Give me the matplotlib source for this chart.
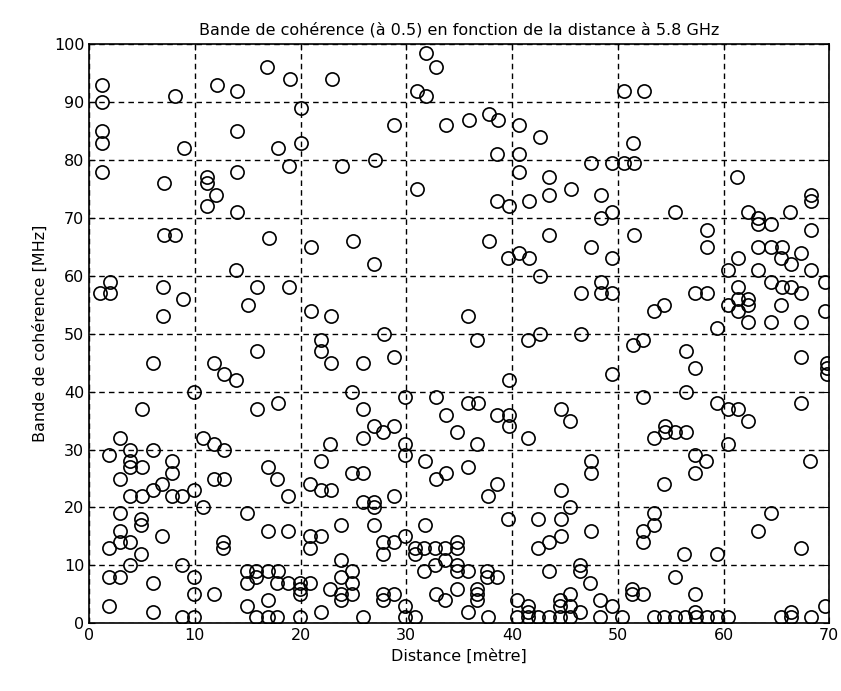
import matplotlib
matplotlib.use("Agg")
import matplotlib.pyplot as plt

# Measured coherence bandwidth (at 0.5 correlation) versus Tx-Rx distance, 5.8 GHz
distance_m = [
    1.2, 1.2, 1.2, 1.2, 1.2, 8.1, 9.0, 7.1, 12.1, 14.0, 16.8, 14.0, 11.1, 11.1, 12.0, 11.1, 14.0, 14.0,
    7.1, 8.1,
    19.0, 23.0, 20.0, 17.9, 20.0, 18.9, 23.9, 27.0, 28.8, 33.8, 31.9, 32.8, 31.0, 31.9, 31.0, 21.0, 25.0, 17.0,
    50.6, 52.5, 35.9, 37.8, 38.7, 40.7, 42.6, 38.6, 40.7, 40.7, 47.5, 49.5, 50.6, 51.5, 51.4, 43.5, 43.5,
    45.6, 48.4, 38.6, 39.7, 41.6, 48.4, 49.5, 37.8, 43.5, 51.5, 47.5,
    61.3, 55.4, 58.4, 62.3, 63.3, 63.3, 64.5, 66.3, 68.3, 68.3, 68.3,
    2.0, 1.0, 2.0, 7.0, 8.9, 7.0, 13.9, 15.9, 15.0, 6.0, 11.8, 12.8, 13.9, 15.9, 9.9, 5.0, 15.9,
    26.9, 18.9, 21.0, 22.9, 27.9, 21.9, 21.9, 22.9, 25.9, 28.8, 24.9, 29.9, 32.8, 33.8, 17.9, 25.9, 26.9, 28.8,
    39.6, 40.7, 41.6, 49.5, 42.6, 48.4, 46.5, 48.4, 49.5, 35.8, 36.7, 41.5, 42.6, 46.5, 51.4, 39.7, 49.5,
    35.8, 36.8, 38.6, 39.7, 39.7, 44.6, 45.5,
    58.4, 61.4, 60.4, 63.3, 64.5, 65.5, 65.4, 66.4, 67.3, 68.3, 63.3, 69.6, 64.5, 65.5, 66.4, 67.3, 61.4,
    61.4, 62.3, 62.3, 60.4, 61.4, 62.3, 64.5, 65.4, 67.3, 69.6, 57.3, 58.4, 53.4, 54.4, 59.4, 52.4, 56.5,
    57.3, 67.3, 69.8, 69.8, 69.8, 52.4, 56.5, 59.4, 60.4, 61.4, 62.3, 67.3,
    2.9, 3.9, 6.0, 1.9, 3.9, 3.9, 5.0, 7.8, 7.8, 2.9, 6.9, 6.0, 3.9, 5.0, 7.8, 8.8, 9.9, 10.8, 11.8, 12.8,
    11.8, 12.8, 10.8, 14.9, 2.9, 4.9, 4.9, 2.9, 2.9, 3.9, 1.9, 4.9, 6.9, 3.9, 8.8, 12.7, 12.7, 1.9, 2.9,
    6.0, 9.9, 9.9, 11.8, 1.9, 6.0, 8.8, 9.9, 14.9, 15.8, 15.8, 14.9, 14.9, 15.8,
    22.8, 25.9, 27.8, 29.9, 29.9, 31.8, 33.8, 32.8, 16.9, 17.8, 18.8, 21.9, 20.9, 21.9, 22.9, 24.9, 25.9,
    28.8, 25.9, 26.9, 26.9, 16.9, 18.8, 20.9, 21.9, 20.9, 23.8, 26.9, 31.8, 27.8, 28.8, 27.8, 29.9, 30.8,
    30.8, 31.7, 32.7, 33.7, 31.7, 32.7, 33.7, 23.8, 23.8, 24.9, 24.9, 22.8, 23.8, 23.8, 24.9, 16.9, 17.9,
    17.8, 18.8, 19.9, 19.9, 19.9, 20.9, 16.9, 16.9, 17.8, 19.9, 21.9, 25.9, 27.8, 27.8, 28.8, 29.9, 29.9,
    30.8, 32.8, 33.7,
    34.8, 36.7, 41.5, 35.8, 38.6, 37.7, 47.5, 47.5, 44.6, 45.5, 44.6, 42.5, 39.6, 47.5, 44.6, 43.5, 42.5,
    34.8, 34.8, 34.8, 34.8, 35.8, 37.6, 37.6, 38.6, 34.8, 36.7, 36.7, 36.7, 35.8, 37.7, 43.5, 46.4, 46.4,
    47.4, 51.3, 51.3, 40.5, 41.5, 41.5, 40.5, 41.5, 42.5, 43.5, 44.5, 44.5, 45.5, 45.5, 44.5, 45.5, 46.4,
    48.3, 48.3, 49.5, 50.4,
    53.4, 54.5, 54.5, 55.4, 56.5, 60.4, 57.3, 58.3, 57.3, 54.4, 68.2, 53.4, 53.4, 52.4, 52.4, 56.3, 59.4,
    64.5, 63.3, 67.3, 55.4, 52.4, 57.3, 57.3, 53.4, 54.4, 55.4, 56.4, 57.4, 58.4, 59.4, 60.4, 65.4, 66.4,
    66.4, 68.3, 69.6,
]
bandwidth_mhz = [
    93, 90, 85, 83, 78, 91, 82, 76, 93, 92, 96, 85, 77, 76, 74, 72, 78, 71,
    67, 67,
    94, 94, 89, 82, 83, 79, 79, 80, 86, 86, 98.5, 96, 92, 91, 75, 65, 66, 66.5,
    92, 92, 87, 88, 87, 86, 84, 81, 81, 78, 79.5, 79.5, 79.5, 79.5, 83, 77, 74,
    75, 74, 73, 72, 73, 70, 71, 66, 67, 67, 65,
    77, 71, 68, 71, 70, 69, 69, 71, 74, 73, 68,
    59, 57, 57, 58, 56, 53, 61, 58, 55, 45, 45, 43, 42, 47, 40, 37, 37,
    62, 58, 54, 53, 50, 49, 47, 45, 45, 46, 40, 39, 39, 36, 38, 37, 34, 34,
    63, 64, 63, 63, 60, 59, 57, 57, 57, 53, 49, 49, 50, 50, 48, 42, 43,
    38, 38, 36, 36, 34, 37, 35,
    65, 63, 61, 65, 65, 65, 63, 62, 64, 61, 61, 59, 59, 58, 58, 57, 58,
    56, 56, 55, 55, 54, 52, 52, 55, 52, 54, 57, 57, 54, 55, 51, 49, 47,
    44, 46, 45, 44, 43, 39, 40, 38, 37, 37, 35, 38,
    32, 30, 30, 29, 28, 27, 27, 28, 26, 25, 24, 23, 22, 22, 22, 22, 23, 32, 31, 30,
    25, 25, 20, 19, 19, 18, 17, 16, 14, 14, 13, 12, 15, 10, 10, 14, 13, 8, 8,
    7, 8, 5, 5, 3, 2, 1, 1, 9, 9, 8, 7, 3, 1,
    31, 32, 33, 31, 29, 28, 26, 25, 27, 25, 22, 28, 24, 23, 23, 26, 26,
    22, 21, 21, 20, 16, 16, 15, 15, 13, 17, 17, 17, 14, 14, 12, 15, 13,
    12, 13, 13, 13, 9, 10, 11, 11, 8, 9, 7, 6, 5, 4, 5, 9, 9,
    7, 7, 7, 6, 5, 7, 4, 1, 1, 1, 2, 1, 5, 4, 5, 3, 1,
    1, 5, 4,
    33, 31, 32, 27, 24, 22, 28, 26, 23, 20, 18, 18, 18, 16, 15, 14, 13,
    14, 13, 10, 9, 9, 9, 8, 8, 6, 6, 5, 4, 2, 1, 9, 10, 9,
    7, 6, 5, 4, 3, 2, 1, 1, 1, 1, 4, 3, 5, 3, 1, 1, 2,
    4, 1, 3, 1,
    32, 34, 33, 33, 33, 31, 29, 28, 26, 24, 28, 19, 17, 16, 14, 12, 12,
    19, 16, 13, 8, 5, 5, 2, 1, 1, 1, 1, 1, 1, 1, 1, 1, 1,
    2, 1, 3,
]

x_ticks = [0, 10, 20, 30, 40, 50, 60, 70]
y_ticks = [0, 10, 20, 30, 40, 50, 60, 70, 80, 90, 100]

plt.rcParams["font.family"] = ["DejaVu Sans"]
fig = plt.figure(figsize=(8.41, 6.91), dpi=100)
ax = fig.add_axes([0.106, 0.098, 0.880, 0.838])

ax.plot(distance_m, bandwidth_mhz, linestyle="none", marker="o", markersize=9.5,
        markerfacecolor="none", markeredgecolor="black", markeredgewidth=1.2)

ax.set_xlim(0, 70)
ax.set_ylim(0, 100)
ax.set_xticks(x_ticks)
ax.set_yticks(y_ticks)
ax.tick_params(direction="in", length=4, top=True, right=True, labelsize=11.5, colors="black")
ax.grid(True, color="black", linestyle=(0, (4, 3)), linewidth=1.0)
for s in ax.spines.values():
    s.set_linewidth(1.2)
    s.set_color("black")

ax.set_title("Bande de cohérence (à 0.5) en fonction de la distance à 5.8 GHz", fontsize=11.5, pad=7)
ax.set_xlabel("Distance [mètre]", fontsize=11.5)
ax.set_ylabel("Bande de cohérence [MHz]", fontsize=11.5)

fig.savefig("out.png", dpi=100)
